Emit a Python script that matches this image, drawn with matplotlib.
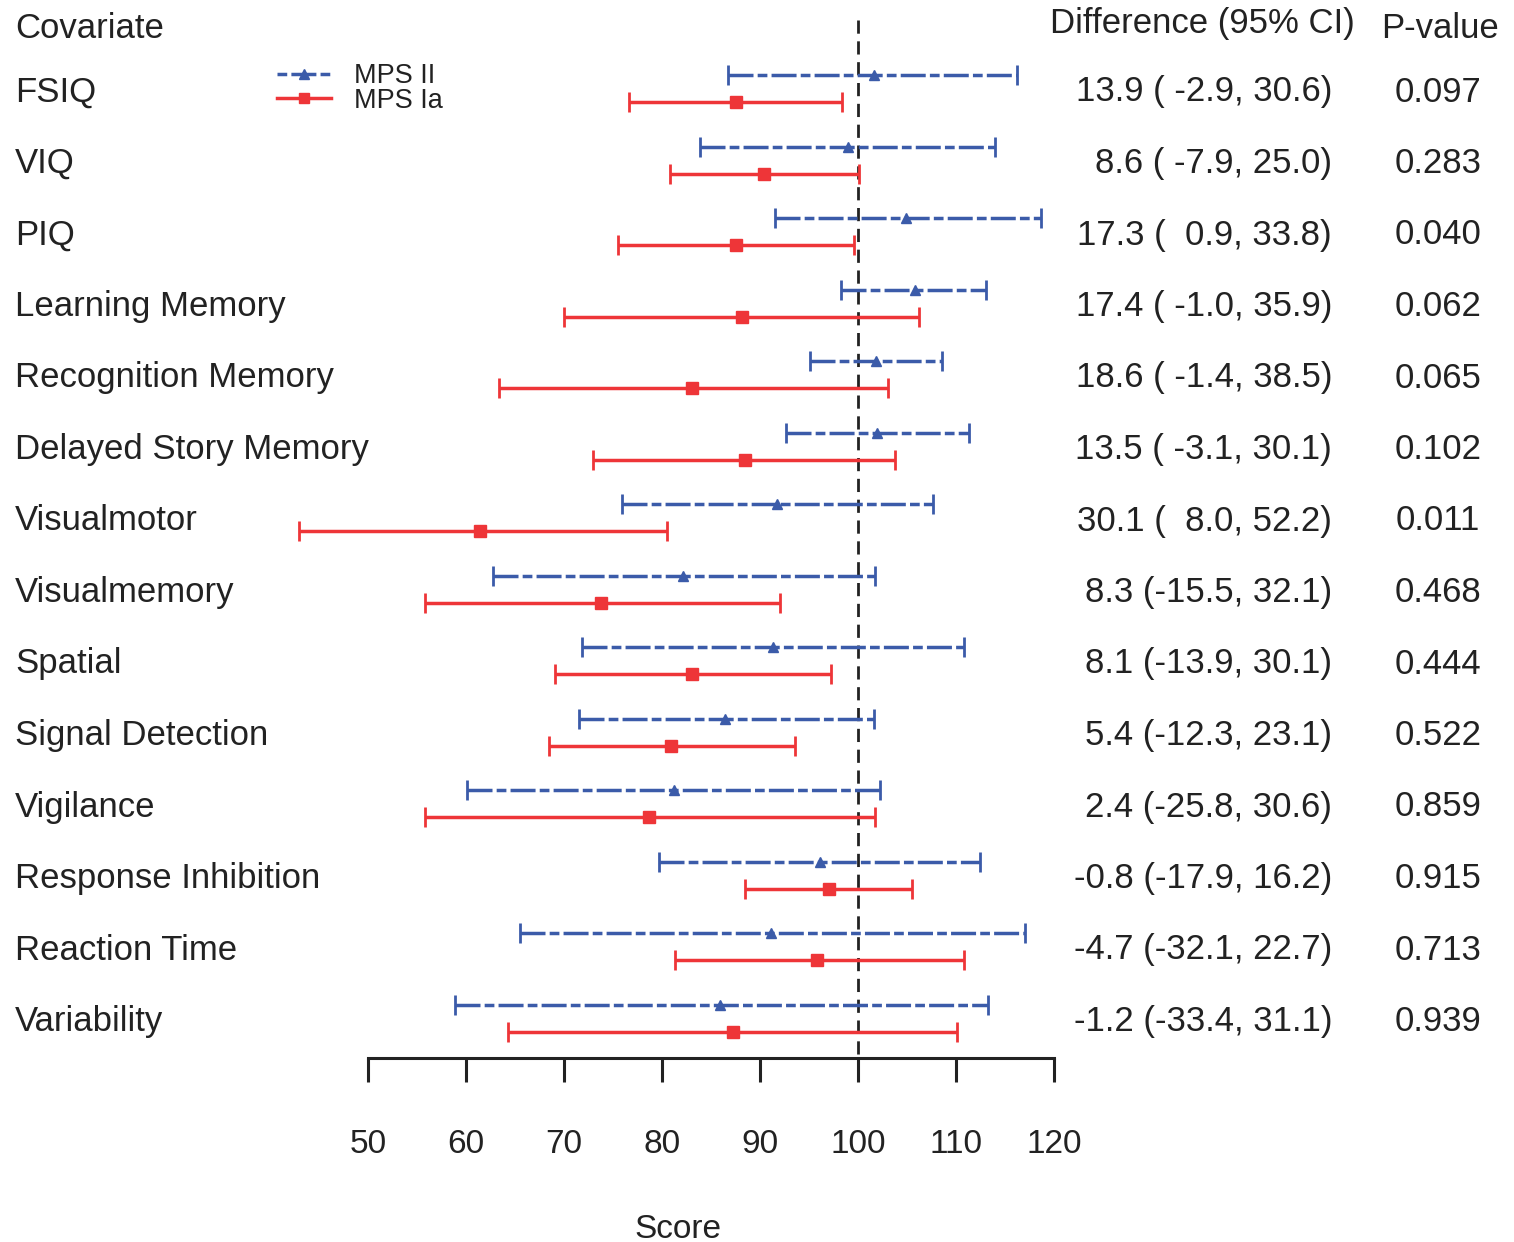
import numpy as np
import matplotlib
matplotlib.use('Agg')
import matplotlib.pyplot as plt
from matplotlib.lines import Line2D
import matplotlib.transforms as mtransforms

plt.rcParams['font.family'] = ['Liberation Sans', 'DejaVu Sans']
plt.rcParams['lines.scale_dashes'] = False

# data
covariates = ['FSIQ', 'VIQ', 'PIQ', 'Learning Memory', 'Recognition Memory',
              'Delayed Story Memory', 'Visualmotor', 'Visualmemory', 'Spatial',
              'Signal Detection', 'Vigilance', 'Response Inhibition',
              'Reaction Time', 'Variability']
mps2_mean = [101.6, 99.0, 104.9, 105.8, 101.8, 101.9, 91.7, 82.1, 91.3, 86.4, 81.2, 96.1, 91.1, 85.9]
mps2_lo = [86.7, 83.9, 91.5, 98.3, 95.1, 92.7, 75.9, 62.8, 71.8, 71.5, 60.1, 79.7, 65.5, 58.9]
mps2_hi = [116.2, 114.0, 118.7, 113.1, 108.6, 111.3, 107.7, 101.7, 110.8, 101.6, 102.2, 112.4, 117.0, 113.3]
mps1_mean = [87.6, 90.4, 87.5, 88.2, 83.1, 88.5, 61.4, 73.8, 83.1, 80.9, 78.7, 97.0, 95.8, 87.2]
mps1_lo = [76.6, 80.8, 75.5, 70.0, 63.4, 73.0, 43.0, 55.8, 69.1, 68.5, 55.8, 88.5, 81.3, 64.3]
mps1_hi = [98.4, 100.1, 99.6, 106.2, 103.1, 103.8, 80.5, 92.0, 97.2, 93.6, 101.7, 105.5, 110.8, 110.1]
diff_text = ['13.9 ( -2.9, 30.6)', '8.6 ( -7.9, 25.0)', '17.3 (  0.9, 33.8)',
             '17.4 ( -1.0, 35.9)', '18.6 ( -1.4, 38.5)', '13.5 ( -3.1, 30.1)',
             '30.1 (  8.0, 52.2)', '8.3 (-15.5, 32.1)', '8.1 (-13.9, 30.1)',
             '5.4 (-12.3, 23.1)', '2.4 (-25.8, 30.6)', '-0.8 (-17.9, 16.2)',
             '-4.7 (-32.1, 22.7)', '-1.2 (-33.4, 31.1)']
p_values = ['0.097', '0.283', '0.040', '0.062', '0.065', '0.102', '0.011',
            '0.468', '0.444', '0.522', '0.859', '0.915', '0.713', '0.939']
ticks = [50, 60, 70, 80, 90, 100, 110, 120]

blue = '#3b5ba9'
red = '#ee3538'
ink = '#222222'
W, H = 1514, 1242
row0, row_step = 88.5, 71.5  # pixel centre of first row, row spacing
fs = 25

def ypix(p):
    return (p - row0) / row_step

fig = plt.figure(figsize=(W / 100, H / 100), dpi=100)
ax = fig.add_axes([0, 0, 1, 1])
ax.set_xlim(50 - 368 / 9.8, 50 + (W - 368) / 9.8)
ax.set_ylim(ypix(H), ypix(0))

y = np.arange(len(covariates))
off = 13.5 / row_step
m2 = np.array(mps2_mean)
m1 = np.array(mps1_mean)

eb2 = ax.errorbar(m2, y - off, xerr=[m2 - np.array(mps2_lo), np.array(mps2_hi) - m2],
                  fmt='^', color=blue, ms=7.5, lw=2.5, capsize=7.5, capthick=2, zorder=3)
eb2[2][0].set_linestyle((0, (18, 3, 7, 3)))
eb1 = ax.errorbar(m1, y + off, xerr=[m1 - np.array(mps1_lo), np.array(mps1_hi) - m1],
                  fmt='s', color=red, ms=8, lw=2.5, capsize=7.5, capthick=2, zorder=3)

ax.vlines(100, ypix(20), ypix(1058), colors=ink, linestyles=(0, (9.5, 5.5)), lw=2, zorder=2)

# axis
for s in ['left', 'top', 'right']:
    ax.spines[s].set_visible(False)
ax.spines['bottom'].set_position(('data', ypix(1058)))
ax.spines['bottom'].set_bounds(50, 120)
ax.spines['bottom'].set_linewidth(2.2)
ax.spines['bottom'].set_color(ink)
ax.set_xticks(ticks)
ax.set_xticklabels([str(t) for t in ticks])
ax.tick_params(axis='x', direction='out', length=17, width=2.2, color=ink,
               labelsize=24, pad=34, labelcolor=ink)
ax.set_yticks([])
ax.text(81.6, ypix(1229), 'Score', ha='center', va='center', fontsize=24, color=ink)

# text columns
tr = mtransforms.blended_transform_factory(fig.transFigure, ax.transData)
ax.text(15 / W, ypix(28), 'Covariate', transform=tr, ha='left', va='center', fontsize=fs, color=ink)
ax.text(1355 / W, ypix(23), 'Difference (95% CI)', transform=tr, ha='right', va='center', fontsize=fs, color=ink)
ax.text(1381 / W, ypix(28), 'P-value', transform=tr, ha='left', va='center', fontsize=fs, color=ink)
dy = 3.5 / row_step
for i in range(len(covariates)):
    ax.text(15 / W, i + dy, covariates[i], transform=tr, ha='left', va='center',
            fontsize=fs, color=ink)
    ax.text(1332 / W, i + dy, diff_text[i], transform=tr, ha='right', va='center',
            fontsize=fs, color=ink)
    ax.text(1438 / W, i + dy, p_values[i], transform=tr, ha='center', va='center',
            fontsize=fs, color=ink)

# legend
h2 = Line2D([], [], color=blue, lw=2.5, linestyle=(0, (7, 3, 18, 3)), marker='^', ms=7.5)
h1 = Line2D([], [], color=red, lw=2.5, marker='s', ms=7.5)
leg = fig.legend([h2, h1], ['MPS II', 'MPS Ia'], loc='upper left',
                 bbox_to_anchor=(277 / W, 1 - 63 / H), frameon=False, fontsize=19.5,
                 handlelength=2.0, handletextpad=0.85, labelspacing=-0.05,
                 borderpad=0, borderaxespad=0, numpoints=1)
for t in leg.get_texts():
    t.set_color(ink)

fig.savefig('out.png', dpi=100)
